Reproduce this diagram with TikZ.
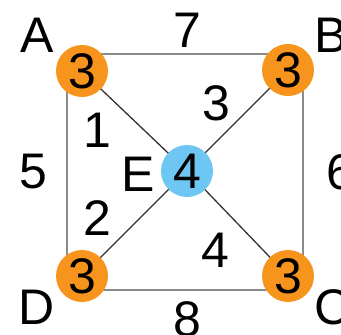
\documentclass[tikz,border=0pt]{standalone}
\usepackage{fontspec}
\setmainfont{Liberation Sans}
\definecolor{nodeorange}{HTML}{F7941D}
\definecolor{nodeblue}{HTML}{6EC6F2}
\definecolor{edgegray}{HTML}{8A8A8A}
\definecolor{diaggray}{HTML}{333333}
\begin{document}
\begin{tikzpicture}[x=1pt,y=-1pt,
  txt/.style={inner sep=0pt, font=\fontsize{50}{50}\selectfont},
  orangenode/.style={circle, fill=nodeorange, minimum size=52pt, inner sep=0pt, font=\fontsize{50}{50}\selectfont},
  bluenode/.style={circle, fill=nodeblue, minimum size=52pt, inner sep=0pt, font=\fontsize{50}{50}\selectfont},
  sqedge/.style={draw=edgegray, line width=2pt},
  diag/.style={draw=diaggray, line width=1.3pt}]
\useasboundingbox (0,0) rectangle (341,335);
% square frame
\coordinate (sqA) at (67,54);
\coordinate (sqB) at (303,54);
\coordinate (sqC) at (303,290);
\coordinate (sqD) at (67,290);
\draw[sqedge] (sqA) -- (sqB) -- (sqC) -- (sqD) -- cycle;
% node positions
\coordinate (pA) at (82,71);
\coordinate (pB) at (288,70);
\coordinate (pC) at (288,276);
\coordinate (pD) at (82,276);
\coordinate (pE) at (187,171);
\draw[diag] (pA) -- (pE) -- (pC);
\draw[diag] (pB) -- (pE) -- (pD);
\node[orangenode] (A) at (pA) {3};
\node[orangenode] (B) at (pB) {3};
\node[orangenode] (C) at (pC) {3};
\node[orangenode] (D) at (pD) {3};
\node[bluenode] (E) at (pE) {4};
% vertex labels
\node[txt] (lA) at (37,35) {A};
\node[txt, anchor=west] (lB) at (314,35) {B};
\node[txt, anchor=west] (lC) at (314,307) {C};
\node[txt] (lD) at (37,307) {D};
\node[txt] (lE) at (138,174) {E};
% edge labels
\node[txt] (w7) at (187,30) {7};
\node[txt] (w3) at (216,103) {3};
\node[txt] (w1) at (97,130) {1};
\node[txt] (w5) at (33,172) {5};
\node[txt, anchor=west] (w6) at (326,172) {6};
\node[txt] (w2) at (97,218) {2};
\node[txt] (w4) at (215,250) {4};
\node[txt] (w8) at (187,319) {8};
\end{tikzpicture}
\end{document}
